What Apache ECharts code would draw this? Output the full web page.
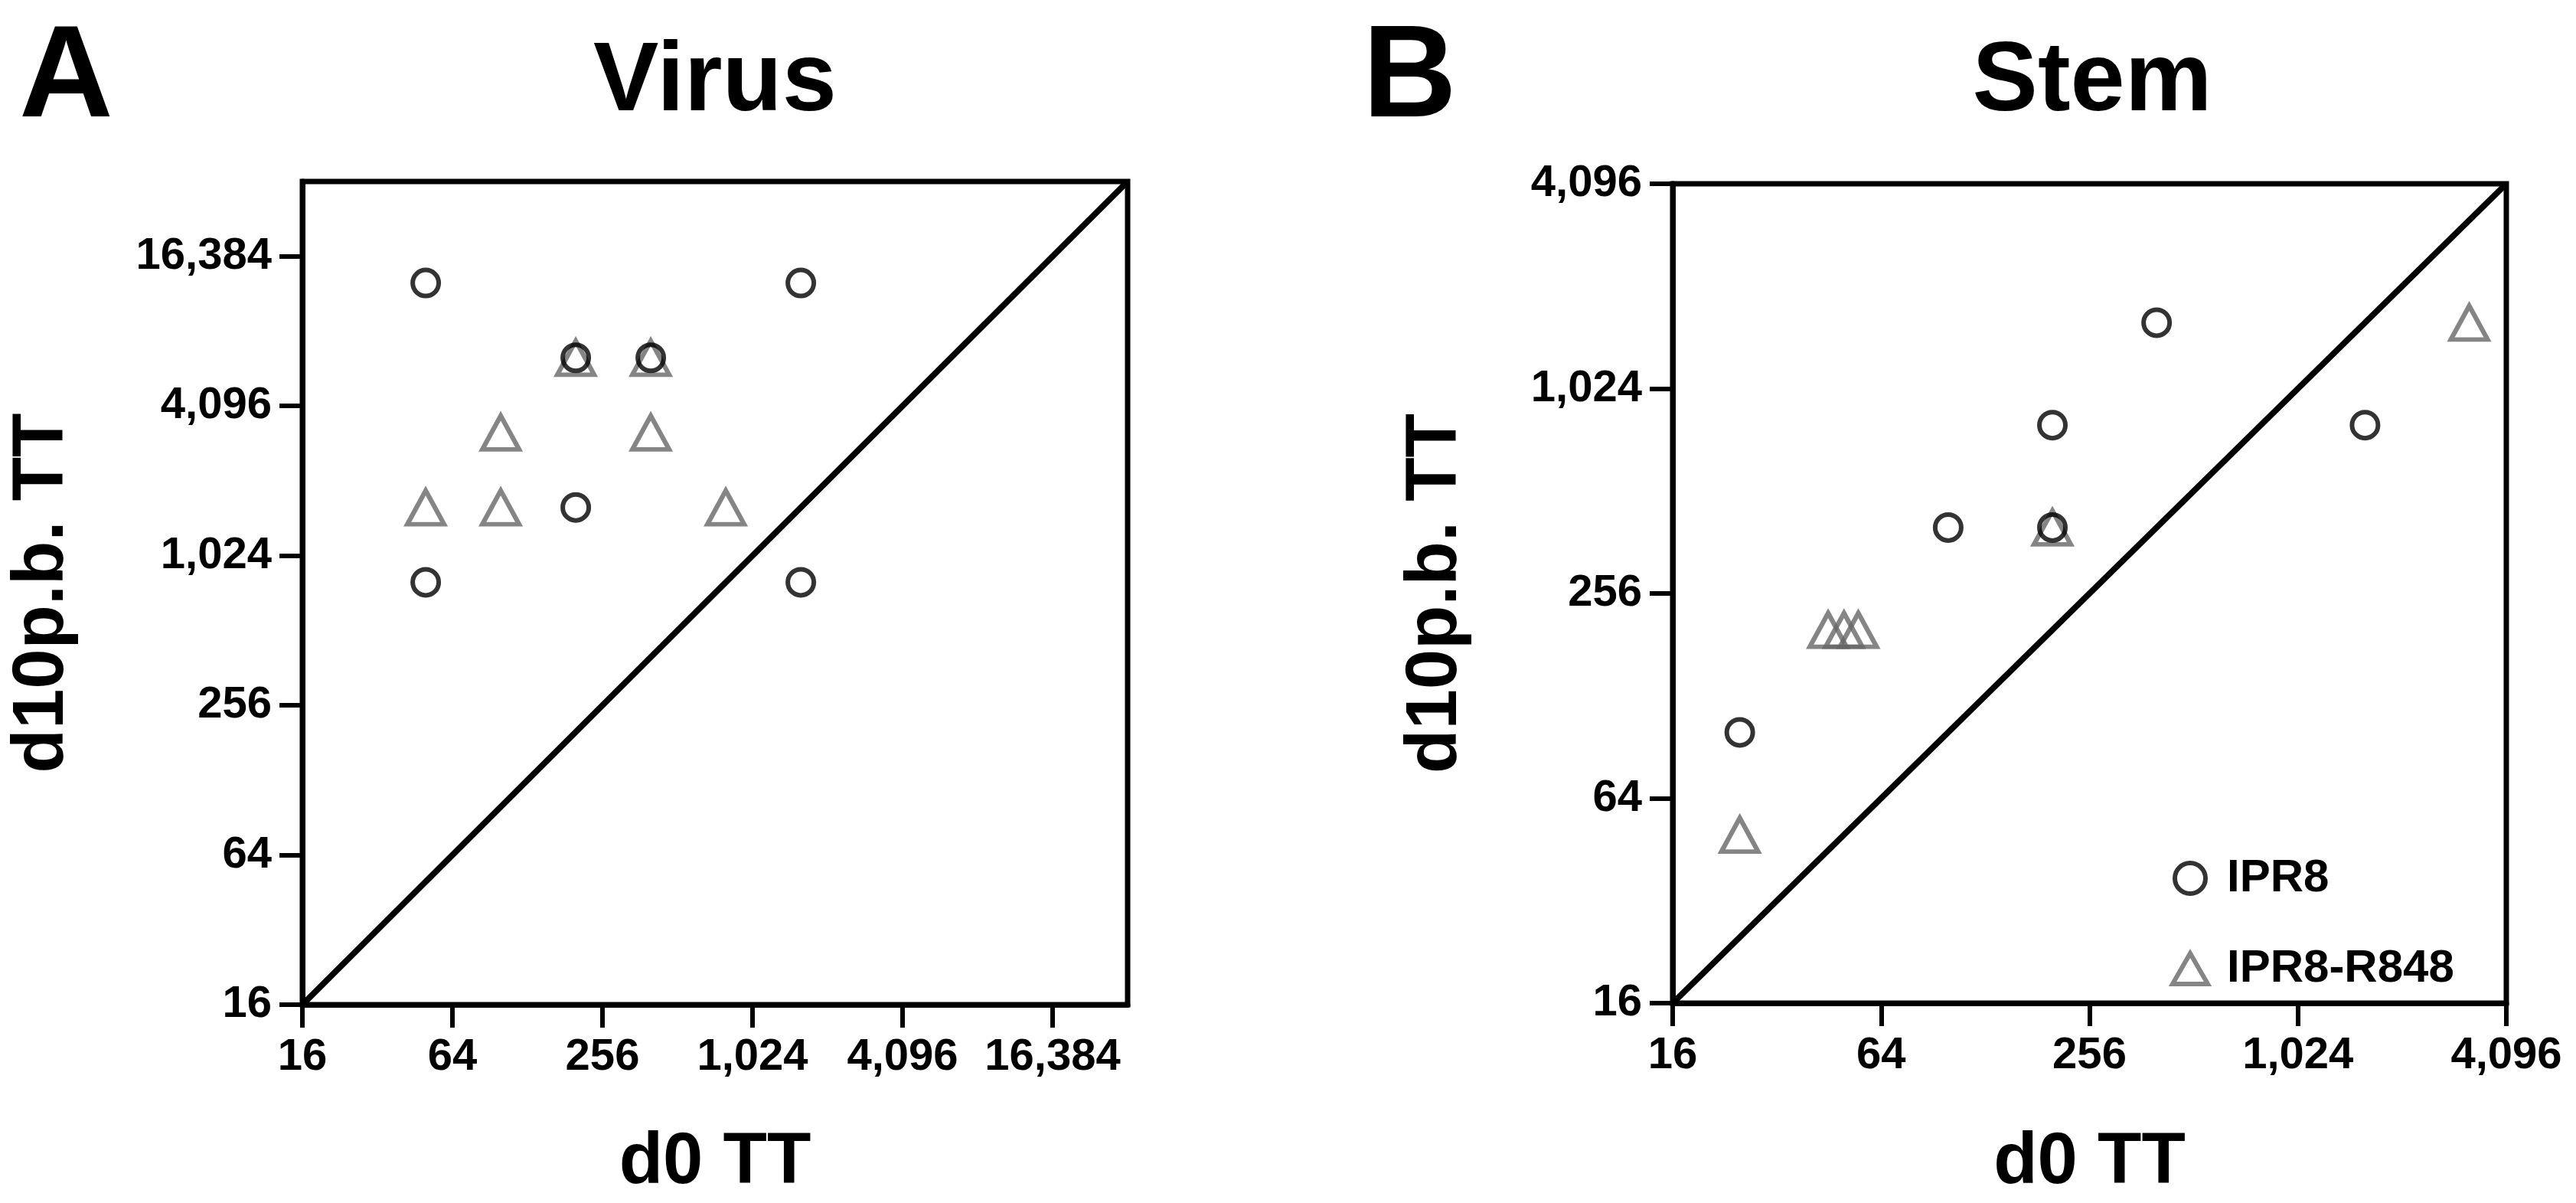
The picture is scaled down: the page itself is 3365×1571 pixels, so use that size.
<!DOCTYPE html>
<html>
<head>
<meta charset="utf-8">
<script src="https://cdn.jsdelivr.net/npm/echarts@6/dist/echarts.min.js"></script>
<style>html,body{margin:0;background:#fff}#chart{width:3365px;height:1571px}</style>
</head>
<body>
<div id="chart"></div>
<script>
// 数据：Virus 面板
var virusIPR8 = [[50, 12800], [1600, 12800], [200, 6400], [400, 6400], [200, 1600], [50, 800], [1600, 800]];
var virusR848 = [[200, 6400], [400, 6400], [100, 3200], [400, 3200], [50, 1600], [100, 1600], [800, 1600]];
// 数据：Stem 面板
var stemIPR8 = [[25, 100], [100, 400], [200, 800], [200, 400], [400, 1600], [1600, 800]];
var stemR848 = [[25, 50], [45, 200], [50, 200], [55, 200], [200, 400], [3200, 1600]];
var virusTicks = [16, 64, 256, 1024, 4096, 16384];
var stemTicks = [16, 64, 256, 1024, 4096];

var FONT = 'Liberation Sans';
var fmt = function (v) { return Math.round(v).toLocaleString('en-US'); };

function logAxis(gridIndex, max, ticks, name, gap) {
    return {
        type: 'log', logBase: 2, gridIndex: gridIndex, min: 16, max: max, interval: 2,
        name: name, nameLocation: 'middle', nameGap: gap,
        nameTextStyle: { fontFamily: FONT, fontWeight: 'bold', fontSize: 94, color: '#000' },
        axisLine: { show: true, lineStyle: { color: '#000', width: 7 } },
        axisTick: { show: true, length: 30, lineStyle: { color: '#000', width: 6 } },
        axisLabel: {
            fontFamily: FONT, fontWeight: 'bold', fontSize: 58, color: '#000', margin: 40,
            showMaxLabel: ticks[ticks.length - 1] === max,
            formatter: function (v) { return ticks.indexOf(Math.round(v)) >= 0 ? fmt(v) : ''; }
        },
        splitLine: { show: false }
    };
}

function circles(name, data, idx) {
    return { name: name, type: 'scatter', xAxisIndex: idx, yAxisIndex: idx, data: data,
        symbol: 'circle', symbolSize: 34, z: 3,
        itemStyle: { color: 'rgba(0,0,0,0)', borderColor: '#000', borderWidth: 6 } };
}
function triangles(name, data, idx) {
    return { name: name, type: 'scatter', xAxisIndex: idx, yAxisIndex: idx, data: data,
        symbol: 'triangle', symbolSize: [48, 44], z: 2,
        itemStyle: { color: 'rgba(0,0,0,0)', borderColor: '#666', borderWidth: 6 } };
}
function diag(idx, max) {
    return { type: 'line', xAxisIndex: idx, yAxisIndex: idx, data: [[16, 16], [max, max]],
        symbol: 'none', silent: true, z: 1, lineStyle: { color: '#000', width: 8 } };
}
var frame = { show: true, borderColor: '#000', borderWidth: 7, backgroundColor: 'transparent' };

var chart = echarts.init(document.getElementById('chart'));
chart.setOption({
    animation: false,
    title: [
        { text: 'A', left: 20, top: 15, textStyle: { fontFamily: FONT, fontWeight: 'bold', fontSize: 170, color: '#000' } },
        { text: 'Virus', left: 929, textAlign: 'center', top: 40, textStyle: { fontFamily: FONT, fontWeight: 'bold', fontSize: 128, color: '#000' } },
        { text: 'B', left: 1775, top: 15, textStyle: { fontFamily: FONT, fontWeight: 'bold', fontSize: 170, color: '#000' } },
        { text: 'Stem', left: 2728, textAlign: 'center', top: 40, textStyle: { fontFamily: FONT, fontWeight: 'bold', fontSize: 128, color: '#000' } }
    ],
    legend: {
        left: 2830, top: 1112, orient: 'vertical', itemGap: 58, itemWidth: 46, itemHeight: 40,
        data: [{ name: 'IPR8', icon: 'circle', itemStyle: { color: 'rgba(0,0,0,0)', borderColor: '#000', borderWidth: 6 } },
               { name: 'IPR8-R848', icon: 'triangle', itemStyle: { color: 'rgba(0,0,0,0)', borderColor: '#666', borderWidth: 6 } }],
        textStyle: { fontFamily: FONT, fontWeight: 'bold', fontSize: 60, color: '#000', padding: [0, 0, 0, 20] }
    },
    grid: [
        Object.assign({ left: 395, top: 237, width: 1078, height: 1078 }, frame),
        Object.assign({ left: 2185, top: 240, width: 1089, height: 1088 }, frame)
    ],
    xAxis: [
        logAxis(0, 32768, virusTicks, 'd0 TT', 160),
        logAxis(1, 4096, stemTicks, 'd0 TT', 162)
    ],
    yAxis: [
        logAxis(0, 32768, virusTicks, 'd10p.b. TT', 292),
        logAxis(1, 4096, stemTicks, 'd10p.b. TT', 262)
    ],
    series: [
        diag(0, 32768), triangles('IPR8-R848', virusR848, 0), circles('IPR8', virusIPR8, 0),
        diag(1, 4096), triangles('IPR8-R848', stemR848, 1), circles('IPR8', stemIPR8, 1)
    ]
});
</script>
</body>
</html>
